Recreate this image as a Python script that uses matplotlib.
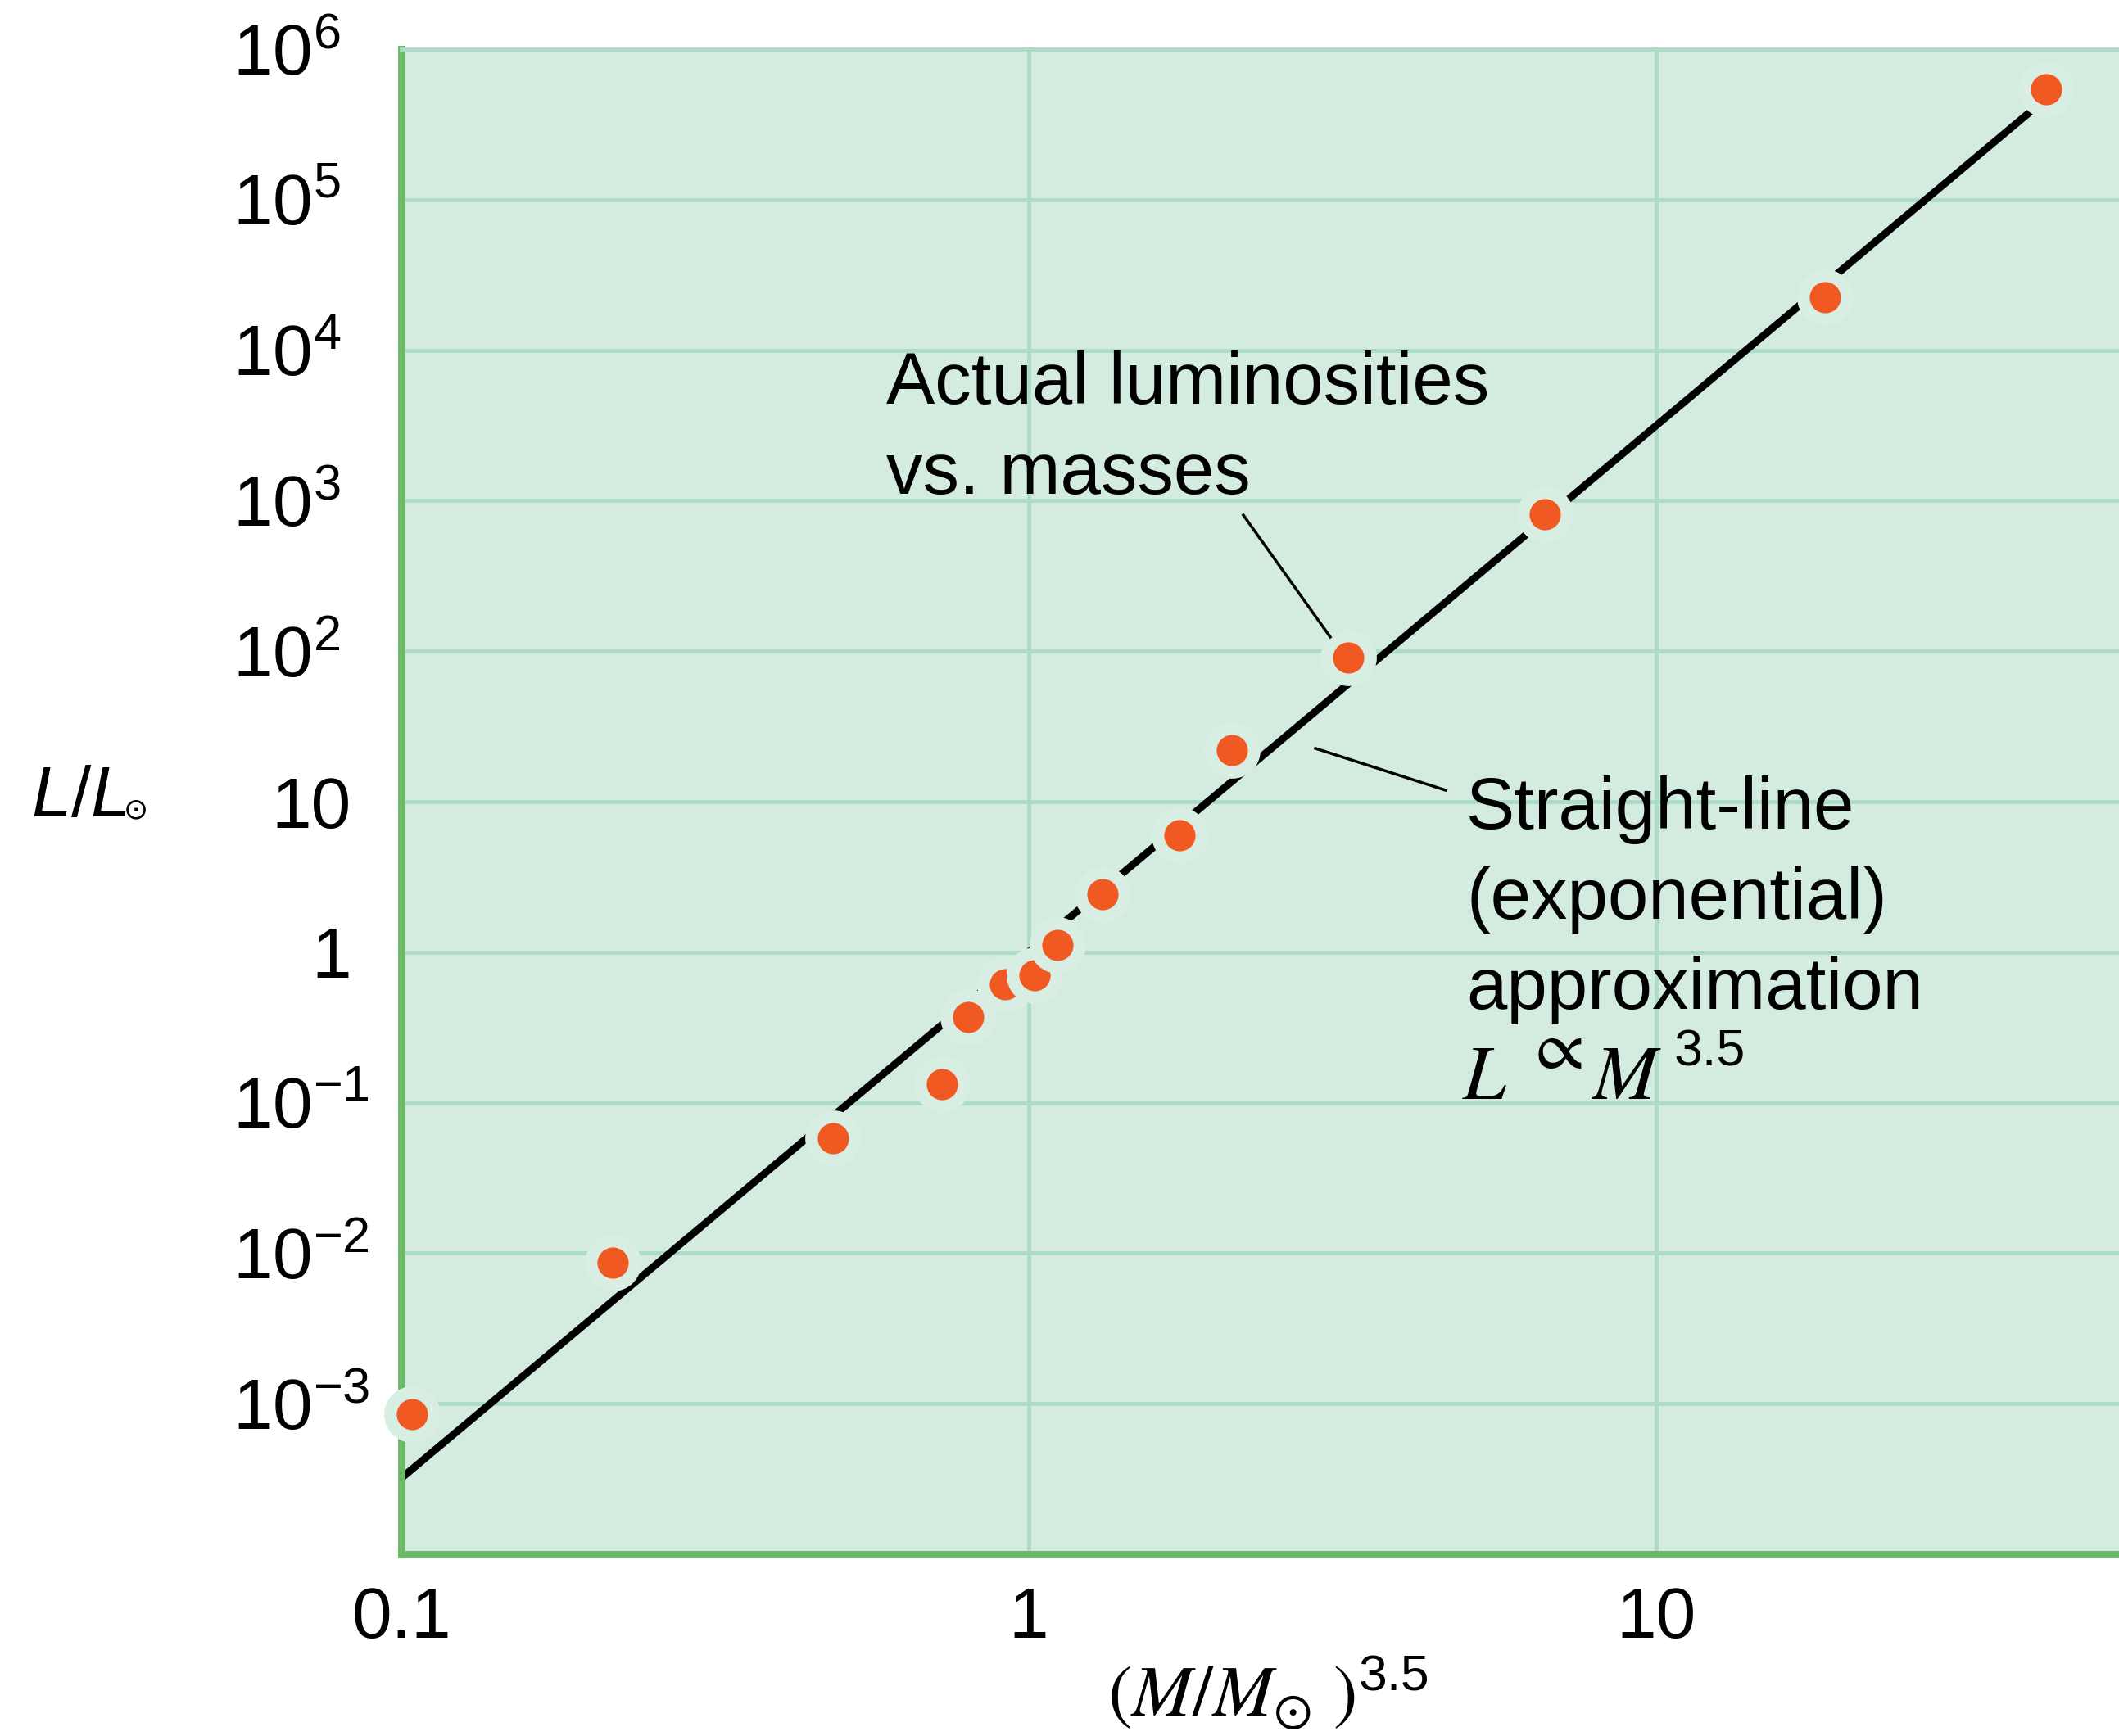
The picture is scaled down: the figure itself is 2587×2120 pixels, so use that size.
import matplotlib.pyplot as plt
from matplotlib.ticker import NullLocator
from matplotlib.transforms import blended_transform_factory

# stars
mass_ratio = [0.104, 0.217, 0.487, 0.727, 0.80, 0.917, 1.02, 1.11, 1.31, 1.74,
              2.11, 3.23, 6.64, 18.6, 41.8]
lum_ratio = [0.00085, 0.0086, 0.058, 0.133, 0.37, 0.61, 0.70, 1.11, 2.44, 5.96,
             21.9, 91, 813, 22600, 540000]

# ends of the straight-line approximation
fit_x = [0.1, 40.5]
fit_y = [3.2e-4, 4.2e5]

x_ticks = [0.1, 1, 10]
x_labels = ['0.1', '1', '10']
y_ticks = [1e-3, 1e-2, 1e-1, 1, 10, 1e2, 1e3, 1e4, 1e5, 1e6]
y_labels = [r'10$^{-3}$', r'10$^{-2}$', r'10$^{-1}$', '1', '10',
            r'10$^{2}$', r'10$^{3}$', r'10$^{4}$', r'10$^{5}$', r'10$^{6}$']

BG = '#d4ebdf'
GRID = '#acdcc6'
SPINE = '#6cb76a'
DOT = '#f05a22'
HALO = '#d9eee3'

plt.rcParams['font.family'] = ['Liberation Sans', 'DejaVu Sans']
plt.rcParams['mathtext.fontset'] = 'custom'
plt.rcParams['mathtext.rm'] = 'Liberation Sans'
plt.rcParams['mathtext.it'] = 'Liberation Sans:italic'
plt.rcParams['mathtext.bf'] = 'Liberation Sans:bold'

W, H = 2587, 2120
fig = plt.figure(figsize=(W / 100, H / 100), dpi=100)
ax = fig.add_axes([490 / W, 1 - 1898 / H, 2097 / W, 1838 / H])
ax.set_facecolor(BG)
ax.set_xscale('log')
ax.set_yscale('log')
ax.set_xlim(0.1, 10 ** 1.7376)
ax.set_ylim(1e-4, 1e6)

ax.set_xticks(x_ticks)
ax.set_xticklabels(x_labels)
ax.set_yticks(y_ticks)
ax.xaxis.set_minor_locator(NullLocator())
ax.yaxis.set_minor_locator(NullLocator())
ax.grid(True, color=GRID, lw=3.5, zorder=0)
ax.set_axisbelow(True)
ax.tick_params(axis='x', length=0, labelsize=63, pad=28)
ax.tick_params(axis='y', length=0, labelleft=False)

# y labels: powers of ten start at a common left edge, 1 and 10 sit flush right
trans = blended_transform_factory(ax.transAxes, ax.transData)
for tick, lab in zip(y_ticks, y_labels):
    if '$' in lab:
        xf, ha = -0.0982, 'left'
    else:
        xf, ha = -0.0291, 'right'
    ax.annotate(lab, xy=(xf, tick), xycoords=trans, xytext=(0, -22.7),
                textcoords='offset points', ha=ha, va='baseline', fontsize=63,
                annotation_clip=False)

for side in ['left', 'bottom']:
    ax.spines[side].set_color(SPINE)
    ax.spines[side].set_linewidth(6.5)
ax.spines['right'].set_visible(False)
ax.spines['top'].set_color(GRID)
ax.spines['top'].set_linewidth(3.5)

# fit line, then the stars with a halo cut out of everything below
ax.plot(fit_x, fit_y, color='black', lw=6.5, solid_capstyle='butt', zorder=2)
ax.plot(mass_ratio, lum_ratio, 'o', ms=38.5, mfc=DOT, mec=HALO, mew=11,
        clip_on=False, zorder=5)

# axis titles
ax.set_xlabel(r'$(M/M_{\odot}\ )^{\mathregular{3.5}}$', fontsize=64,
              math_fontfamily='stix')
ax.xaxis.set_label_coords(0.5045, -0.108)
ax.xaxis.label.set_va('baseline')
fig.text(38 / W, 1 - 997 / H, r'$L/L$', fontsize=63, va='baseline', ha='left')
fig.text(151 / W, 1 - 989 / H, '\u2299', fontsize=26, va='center', ha='left',
         family='DejaVu Sans')

# annotations (axes fractions)
ax.text(0.2823, 0.7046, 'Actual luminosities\nvs. masses', transform=ax.transAxes,
        fontsize=64, va='baseline', ha='left', linespacing=1.4, zorder=6)
ax.plot([0.4902, 0.5408], [0.6904, 0.6094], transform=ax.transAxes,
        color='black', lw=2.5, zorder=6)

ax.text(0.620, 0.3624, 'Straight-line\n(exponential)\napproximation',
        transform=ax.transAxes, fontsize=64, va='baseline', ha='left',
        linespacing=1.4, zorder=6)
ax.plot([0.5322, 0.6080], [0.5354, 0.5076], transform=ax.transAxes,
        color='black', lw=2.5, zorder=6)

# L ∝ M^3.5 set piece by piece, the ∝ sits high like in the print
ax.text(0.6175, 0.3025, r'$L$', transform=ax.transAxes, fontsize=68,
        va='baseline', ha='left', math_fontfamily='stix', zorder=6)
ax.text(0.6545, 0.3345, r'$\propto$', transform=ax.transAxes, fontsize=62,
        va='center', ha='left', math_fontfamily='stix', zorder=6)
ax.text(0.6929, 0.3025, r'$M$', transform=ax.transAxes, fontsize=68,
        va='baseline', ha='left', math_fontfamily='stix', zorder=6)
ax.text(0.741, 0.3243, '3.5', transform=ax.transAxes, fontsize=45,
        va='baseline', ha='left', zorder=6)

fig.savefig('out.png', dpi=100, facecolor='white')
